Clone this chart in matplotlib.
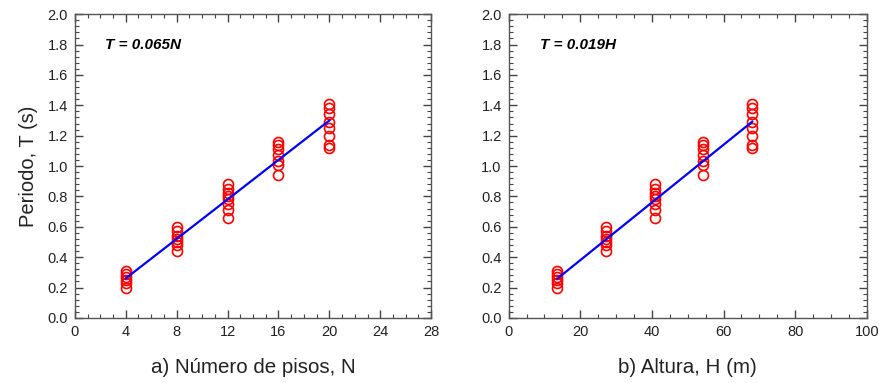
import matplotlib
matplotlib.use("Agg")
import matplotlib.pyplot as plt
from matplotlib.ticker import MultipleLocator, FormatStrFormatter
import numpy as np

plt.rcParams['font.family'] = ['Liberation Sans', 'DejaVu Sans']

# Number of stories and building heights (3.4 m per story)
stories = [4, 8, 12, 16, 20]
heights = [13.6, 27.2, 40.8, 54.4, 68.0]

# Measured periods (s) for each group of buildings
periods_4 = [0.20, 0.23, 0.25, 0.27, 0.29, 0.31]
periods_8 = [0.44, 0.48, 0.50, 0.52, 0.54, 0.57, 0.60]
periods_12 = [0.66, 0.71, 0.75, 0.78, 0.80, 0.82, 0.85, 0.88]
periods_16 = [0.94, 1.01, 1.03, 1.07, 1.11, 1.14, 1.16]
periods_20 = [1.12, 1.14, 1.20, 1.25, 1.29, 1.34, 1.38, 1.41]
period_groups = [periods_4, periods_8, periods_12, periods_16, periods_20]

# Fitted coefficients
coef_N = 0.065
coef_H = 0.019

fig = plt.figure(figsize=(8.8, 3.83), dpi=100)
ax1 = fig.add_axes([0.085, 0.170, 0.405, 0.793])
ax2 = fig.add_axes([0.578, 0.170, 0.407, 0.793])

panels = [
    (ax1, stories, coef_N, 28, 4, 1, 'a) Número de pisos, N', 'T = 0.065N', 2.4),
    (ax2, heights, coef_H, 100, 20, 5, 'b) Altura, H (m)', 'T = 0.019H', 8.7),
]

for ax, xs, coef, xmax, xmaj, xmin, xlabel, eq, eqx in panels:
    for x, grp in zip(xs, period_groups):
        ax.plot([x] * len(grp), grp, linestyle='none', marker='o',
                markersize=7.2, markerfacecolor='none',
                markeredgecolor='#ff0000', markeredgewidth=1.2, zorder=3)
    xfit = np.array([xs[0], xs[-1]])
    ax.plot(xfit, coef * xfit, color='#0000ff', linewidth=1.6, zorder=4)
    ax.set_xlim(0, xmax)
    ax.set_ylim(0, 2.0)
    ax.xaxis.set_major_locator(MultipleLocator(xmaj))
    ax.xaxis.set_minor_locator(MultipleLocator(xmin))
    ax.yaxis.set_major_locator(MultipleLocator(0.2))
    ax.yaxis.set_minor_locator(MultipleLocator(0.04))
    ax.yaxis.set_major_formatter(FormatStrFormatter('%.1f'))
    ax.tick_params(which='both', direction='in', top=True, right=True,
                   color='#444444', labelsize=10.5, pad=5, labelcolor='#222222')
    ax.tick_params(which='major', length=6, width=1)
    ax.tick_params(which='minor', length=3, width=0.8)
    for sp in ax.spines.values():
        sp.set_color('#555555')
        sp.set_linewidth(1.0)
    ax.set_xlabel(xlabel, fontsize=14.8, labelpad=14, color='#222222')
    ax.text(eqx, 1.8, eq, fontsize=11, fontweight='bold', fontstyle='italic',
            ha='left', va='center')

ax1.set_ylabel('Periodo, T (s)', fontsize=14.5, labelpad=7, color='#222222')

fig.savefig('out.png', dpi=100)
